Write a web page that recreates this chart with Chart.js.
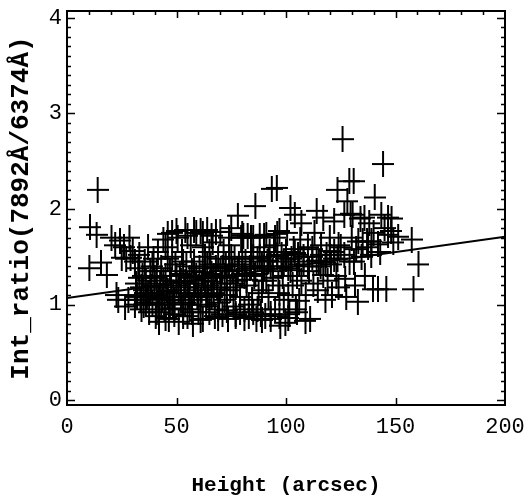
<!DOCTYPE html>
<html>
<head>
<meta charset="utf-8">
<script src="https://cdn.jsdelivr.net/npm/chart.js@4"></script>
<style>
html,body{margin:0;padding:0;background:#fff;}
#wrap{width:531px;height:499px;}
</style>
</head>
<body>
<div id="wrap"><canvas id="c" width="531" height="499"></canvas></div>
<script>
// ---- data ----
const heightArcsec = [
  10.5,13.5,10.2,14.0,18.2,15.5,20.3,22,24.2,26,25,27,29,23.4,26.5,22.6,28,30,28.5,
  31,31.5,32,32.5,33,33.5,34,34.5,35,35.5,36,36.5,37,37.5,38,38.5,39,39.5,40,31,33,35,37,39,
  40.5,41,41.5,42,42.5,43,43.5,44,44.5,45,45.5,46,46.5,47,47.5,48,48.5,49,49.5,50,41,43,45,47,49,44,46,48,
  50.5,51,51.5,52,52.5,53,53.5,54,54.5,55,55.5,56,56.5,57,57.5,58,58.5,59,59.5,60,51,53,55,57,59,52,54,56,58,
  60.5,61,61.5,62,62.5,63,63.5,64,64.5,65,65.5,66,66.5,67,67.5,68,68.5,69,69.5,70,61,63,65,67,69,62,64,66,
  70.5,71,71.5,72,72.5,73,73.5,74,74.5,75,75.5,76,76.5,77,77.5,78,78.5,79,79.5,80,71,73,75,77,79,
  80.5,81,81.5,82,82.5,83,83.5,84,84.5,85,85.5,86,86.5,87,87.5,88,88.5,89,89.5,90,81,83,85,87,89,
  90.5,91,91.5,92,92.5,93,93.5,94,94.5,95,95.8,96,96.5,97,97.4,98,98.5,99,99.7,100,91,93,95,97,99,
  100.5,101,101.5,102,102.5,103,103.5,104,104.5,105,105.5,106,106.5,107,108,108.9,109,110,101,107,
  110.5,111,112,112.5,113,114,114.5,115,115.8,116,117,117,118,118.5,119,120,
  120.5,121,122,122,123,123.5,123.5,124,125,125.8,126.6,126.6,127,127.5,128,128.9,129,129.5,130,130.9,130.4,
  131,131.5,132,132.8,133,134,134.5,135,135.8,136,137,137.5,138,138.9,139,139.7,140,
  140.5,142,142,143,143.5,144.3,145,145.8,146.6,146.6,148,148.2,149,151.2,157.4,158.2,160.5,
  32,34,36,38,40,42,44,46,48,50,52,54,56,58,60,62,64,66,68,70,72,74,76,78,80,82,84,86,88,90,92,94,96,98,100,102,104,106,108,110,112,114,116,118,120,122,124,
  41,45,49,53,57,61,65,69,73,77,81,85,89,93,97,101,105,
  46,50,55,58,62,66,70,74,80,84,90,96
];
const intRatio = [
  1.81,1.73,1.38,2.20,1.31,1.44,1.70,1.62,1.67,1.60,1.49,1.48,1.49,1.05,0.98,1.10,1.05,1.56,1.70,
  1.00,1.22,1.10,1.38,1.52,1.05,0.95,1.30,1.15,1.45,1.25,1.08,1.60,0.92,1.35,1.18,1.02,1.48,1.28,1.45,1.28,1.00,1.12,1.40,
  0.88,1.10,1.55,0.82,1.22,1.38,1.05,1.68,0.95,1.30,1.15,1.48,0.85,1.00,1.25,1.75,1.12,0.90,1.42,1.20,1.35,1.00,1.60,1.35,1.05,1.18,1.08,1.50,
  1.70,0.82,1.32,1.05,1.55,0.95,1.18,1.78,1.40,0.88,1.10,1.28,1.62,1.00,0.80,1.45,1.22,1.75,1.08,0.92,1.15,1.45,1.22,1.35,1.30,1.25,1.02,0.95,1.12,
  1.38,1.77,1.15,0.85,1.28,1.50,1.00,1.78,1.20,0.92,1.42,1.08,1.65,1.30,0.88,1.76,1.18,1.48,1.02,1.35,1.05,1.25,1.55,1.12,0.95,1.60,1.40,1.32,
  1.22,0.90,1.55,1.05,1.40,1.28,0.85,1.62,1.15,1.80,1.35,0.98,1.48,0.88,1.25,1.93,1.42,1.08,1.70,1.32,1.38,1.10,1.50,1.18,0.92,
  1.72,0.95,1.45,1.20,1.72,0.88,1.38,1.55,1.05,1.70,1.30,2.03,0.85,1.48,1.12,1.72,0.90,1.40,1.25,1.60,1.30,1.00,1.50,0.95,1.15,
  0.88,1.73,1.45,1.08,1.55,0.85,2.21,1.35,1.62,0.95,2.22,1.50,1.20,1.77,0.78,1.52,1.30,1.05,0.81,1.55,1.25,1.40,1.70,1.12,1.45,
  1.75,1.38,0.90,2.01,1.48,1.20,1.58,1.94,0.95,1.30,1.52,1.04,1.68,1.25,1.45,0.83,1.10,1.60,1.10,1.85,
  1.35,0.85,1.50,1.22,1.75,1.98,1.15,1.45,1.40,1.62,1.91,1.31,1.05,1.52,1.25,1.70,
  1.42,1.10,1.87,1.55,1.30,2.20,1.48,1.18,1.60,2.73,1.94,1.52,1.27,1.08,2.08,2.29,1.45,1.95,1.70,2.29,1.94,
  1.45,1.20,1.58,1.03,1.66,1.90,1.50,1.66,1.91,1.30,1.66,1.60,1.85,1.52,1.66,1.16,1.75,
  2.12,1.16,1.63,1.55,1.94,2.47,1.80,1.16,1.91,1.73,1.77,1.90,1.65,1.71,1.68,1.16,1.42,
  1.08,1.18,1.02,1.12,1.20,1.06,1.25,1.14,1.02,1.30,1.12,1.24,1.08,1.30,1.18,1.34,1.10,1.24,1.38,1.16,1.30,1.42,1.22,1.36,1.48,1.26,1.40,1.32,1.50,1.38,1.46,1.28,1.52,1.40,1.48,1.36,1.54,1.42,1.50,1.40,1.58,1.46,1.52,1.44,1.56,1.48,1.62,
  0.92,0.86,0.96,0.88,0.92,0.84,0.98,0.86,0.94,0.90,0.86,0.92,0.84,0.90,0.88,0.86,0.92,
  1.74,1.77,1.72,1.78,1.74,1.72,1.76,1.70,1.74,1.70,1.72,1.74
];
const fitX = [0, 200];
const fitY = [1.07, 1.71];
const xTickLabels = [0, 50, 100, 150, 200];
const yTickLabels = [0, 1, 2, 3, 4];

// ---- build ----
const points = heightArcsec.map((x, i) => ({x: x, y: intRatio[i]}));
const fitLine = fitX.map((x, i) => ({x: x, y: fitY[i]}));

// plus-sign marker (slightly taller than wide, like the reference)
const mark = document.createElement('canvas');
mark.width = 22; mark.height = 26;
(function(){
  const g = mark.getContext('2d');
  g.fillStyle = '#000';
  g.fillRect(0, 12, 22, 2);
  g.fillRect(10, 0, 2, 26);
})();

const frameTicks = {
  id: 'frameTicks',
  afterDraw(chart) {
    const ctx = chart.ctx, a = chart.chartArea;
    const xs = chart.scales.x, ys = chart.scales.y;
    ctx.save();
    ctx.strokeStyle = '#000';
    ctx.lineWidth = 2;
    ctx.strokeRect(a.left, a.top, a.right - a.left, a.bottom - a.top);
    ctx.lineWidth = 1.5;
    ctx.beginPath();
    for (let k = 0; k <= 40; k++) {
      const v = k / 10;
      const p = Math.round(ys.getPixelForValue(v)) + 0.5;
      if (p < a.top + 1 || p > a.bottom - 1) continue;
      const len = (k % 10 === 0) ? 8 : 4;
      ctx.moveTo(a.left, p); ctx.lineTo(a.left + len, p);
      ctx.moveTo(a.right, p); ctx.lineTo(a.right - len, p);
    }
    for (const v of xTickLabels) {
      const p = Math.round(xs.getPixelForValue(v)) + 0.5;
      if (p < a.left + 1 || p > a.right - 1) continue;
      ctx.moveTo(p, a.bottom); ctx.lineTo(p, a.bottom - 7);
    }
    for (let v = 0; v <= 200; v += 10) {
      const p = Math.round(xs.getPixelForValue(v)) + 0.5;
      if (p < a.left + 1 || p > a.right - 1) continue;
      const len = (v % 50 === 0) ? 7 : 4;
      ctx.moveTo(p, a.top); ctx.lineTo(p, a.top + len);
    }
    ctx.stroke();
    ctx.restore();
  }
};

const FONT = 'Liberation Mono';
new Chart(document.getElementById('c'), {
  type: 'scatter',
  data: {
    datasets: [
      {
        label: 'data',
        data: points,
        pointStyle: mark,
        pointRadius: 10,
        borderColor: '#000',
        backgroundColor: '#000',
        showLine: false
      },
      {
        label: 'fit',
        type: 'line',
        data: fitLine,
        borderColor: '#000',
        borderWidth: 2,
        pointRadius: 0,
        fill: false
      }
    ]
  },
  options: {
    responsive: false,
    animation: false,
    events: [],
    layout: { padding: { top: 10, right: 26, left: 0, bottom: 0 } },
    plugins: { legend: { display: false }, tooltip: { enabled: false } },
    scales: {
      x: {
        type: 'linear',
        position: 'bottom',
        min: 0, max: 200,
        afterBuildTicks: s => { s.ticks = xTickLabels.map(v => ({value: v})); },
        ticks: { color: '#000', font: { family: FONT, size: 22 }, padding: 9, maxRotation: 0, autoSkip: false },
        grid: { display: false, drawTicks: false },
        border: { display: false },
        title: { display: true, text: 'Height (arcsec)', color: '#000',
                 font: { family: FONT, size: 21, weight: 'bold' }, padding: { top: 0, bottom: 1 } },
        afterFit: s => { s.height = 94; s.paddingLeft = 0; s.paddingRight = 0; }
      },
      y: {
        type: 'linear',
        min: -0.05, max: 4.07,
        afterBuildTicks: s => { s.ticks = yTickLabels.map(v => ({value: v})); },
        ticks: { color: '#000', font: { family: FONT, size: 22 }, padding: 5, autoSkip: false },
        grid: { display: false, drawTicks: false },
        border: { display: false },
        title: { display: true, text: 'Int_ratio(7892Å/6374Å)', color: '#000',
                 font: { family: FONT, size: 26, weight: 'bold' }, padding: { top: 6, bottom: 0 } },
        afterFit: s => { s.width = 67; s.paddingTop = 0; s.paddingBottom = 0; }
      }
    }
  },
  plugins: [frameTicks]
});
</script>
</body>
</html>
